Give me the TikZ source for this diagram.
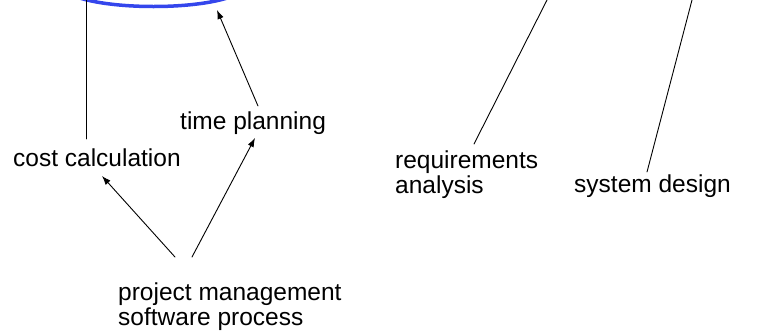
\documentclass[tikz,border=0pt]{standalone}
\usepackage{fontspec}
\setmainfont{Liberation Sans}
\usetikzlibrary{arrows.meta, calc}
\definecolor{ovalblue}{RGB}{52,70,236}

\begin{document}
\begin{tikzpicture}[x=1bp, y=1bp, line cap=round, line join=round,
    lbl/.style={inner sep=0pt, anchor=base west, align=left,
        font=\fontsize{24.5bp}{24.5bp}\selectfont},
    arr/.style={-{Latex[length=9bp, width=6.5bp]}, line width=0.9bp},
    ln/.style={line width=0.9bp}]
    \useasboundingbox (0,0) rectangle (765,-334);
    \clip (0,0) rectangle (765,-334);

    % process oval, mostly above the page
    \draw[ovalblue, line width=3.5bp] (153.5,13.5) ellipse (90 and 20);

    % labels (base = last line)
    \node[lbl] (cost) at (13,-166) {cost calculation};
    \node[lbl] (time) at (180,-129) {time planning};
    \node[lbl] (pm)   at (118,-325) {project management\\software process};
    \node[lbl] (req)  at (395,-193) {requirements\\analysis};
    \node[lbl] (sys)  at (574,-192) {system design};

    % free ends at the top edge
    \coordinate (ovalL) at (86,0);
    \coordinate (ovalR) at (217,-10);
    \coordinate (reqT)  at (547,0);
    \coordinate (sysT)  at (692,0);

    % cost calculation hangs from the oval
    \draw[ln] ([shift={(73,27)}]cost.base west) -- (ovalL);
    % time planning points up to the oval
    \draw[arr] ([shift={(78,23)}]time.base west) -- (ovalR);

    % project management to its two tasks
    \draw[arr] ([shift={(57,68)}]pm.base west) -- ([shift={(89,-10)}]cost.base west);
    \draw[arr] ([shift={(74,68)}]pm.base west) -- ([shift={(75,-9)}]time.base west);

    % the two phases on the right
    \draw[ln] ([shift={(79,49)}]req.base west) -- (reqT);
    \draw[ln] ([shift={(73,20)}]sys.base west) -- (sysT);
\end{tikzpicture}
\end{document}
